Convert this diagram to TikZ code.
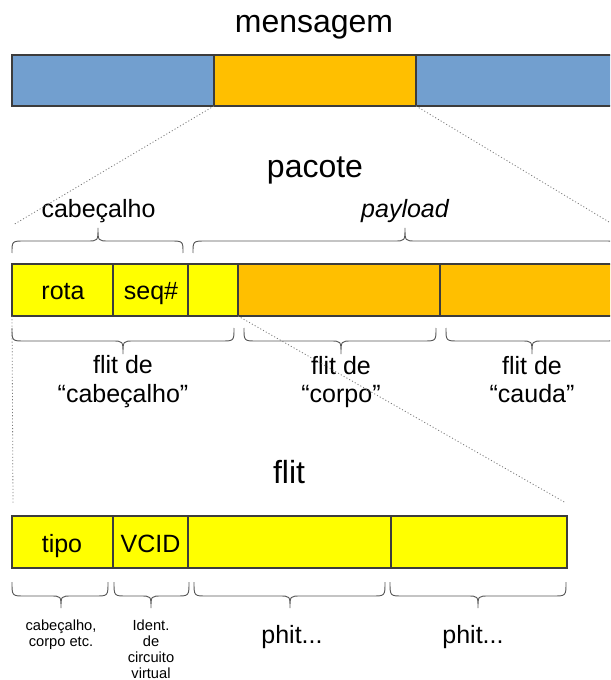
\documentclass[tikz,border=0pt]{standalone}
\usepackage{fontspec}
\setmainfont{Liberation Sans}
\usetikzlibrary{fit}

\definecolor{msgblue}{HTML}{729FCF}
\definecolor{amber}{HTML}{FFBF00}
\definecolor{lemon}{HTML}{FFFF00}
\definecolor{edge}{HTML}{3C3C3C}
\definecolor{bracegray}{HTML}{5A5A5A}
\definecolor{guide}{HTML}{7A7A7A}

% one field of a bar: name, x1, y1, x2, y2, fill colour
\newcommand\segbox[6]{%
  \node[seg, fill=#6, fit={(#2,#3) (#4,#5)}] (#1) {};}

% curly brace: x1, x2, x of tip, y of ends, y of flat part, y of tip
\newcommand\curlybrace[6]{%
  \draw[bracestyle] (#1,#4) .. controls (#1,#5) .. ({#1+13},#5)
    -- ({#3-11},#5) .. controls (#3,#5) .. (#3,#6)
    .. controls (#3,#5) .. ({#3+11},#5)
    -- ({#2-13},#5) .. controls (#2,#5) .. (#2,#4);}

\begin{document}
\begin{tikzpicture}[x=0.75pt,y=-0.75pt,
  seg/.style={draw=edge, line width=0.9pt, inner sep=0pt, outer sep=0pt},
  big/.style={font=\fontsize{24}{28}\selectfont, anchor=base, inner sep=0pt},
  mid/.style={font=\fontsize{18.75}{22}\selectfont, anchor=base, inner sep=0pt},
  small/.style={font=\fontsize{11}{13}\selectfont, anchor=base, inner sep=0pt},
  bracestyle/.style={draw=bracegray, line width=0.7pt},
  guideline/.style={draw=guide, line width=0.6pt, dash pattern=on 0.8pt off 1.6pt}]

\clip (0,0) rectangle (610,680);
\fill[white] (0,0) rectangle (610,680);

% ---- message ----
\node[big] (tmsg) at (314,33) {mensagem};
\segbox{m1}{12}{55}{214}{106}{msgblue}
\segbox{m2}{214}{55}{416}{106}{amber}
\segbox{m3}{416}{55}{625}{106}{msgblue}

% ---- packet ----
\node[big] (tpkt) at (315,178) {pacote};
\node[mid] (thead) at (98.5,218) {cabeçalho};
\node[mid] (tpay) at (405,218) {\itshape payload};
\curlybrace{12}{183}{98}{253}{241}{228}
\curlybrace{193}{617}{405}{253}{241}{228}

\segbox{p1}{12}{264}{113}{316}{lemon}
\segbox{p2}{113}{264}{188}{316}{lemon}
\segbox{p3}{188}{264}{238}{316}{lemon}
\segbox{p4}{238}{264}{440}{316}{amber}
\segbox{p5}{440}{264}{625}{316}{amber}
\node[mid] (trota) at (63,300) {rota};
\node[mid] (tseq) at (151,300) {seq\#};

\curlybrace{12}{234}{123}{328}{341}{354}
\curlybrace{244}{436}{341}{328}{341}{354}
\curlybrace{446}{618}{532}{328}{341}{354}
\node[mid] (fh1) at (123,373) {flit de};
\node[mid] (fh2) at (123,402) {“cabeçalho”};
\node[mid] (fb1) at (341,374) {flit de};
\node[mid] (fb2) at (341,402) {“corpo”};
\node[mid] (ft1) at (532,374) {flit de};
\node[mid] (ft2) at (532,402) {“cauda”};

% ---- flit ----
\node[big] (tflit) at (289,483) {flit};
\segbox{f1}{12}{516}{113}{568}{lemon}
\segbox{f2}{113}{516}{188}{568}{lemon}
\segbox{f3}{188}{516}{391}{568}{lemon}
\segbox{f4}{391}{516}{567}{568}{lemon}
\node[mid] (ttipo) at (62,552) {tipo};
\node[mid] (tvcid) at (150.5,552) {VCID};

\curlybrace{12}{108}{61}{582}{596}{608}
\curlybrace{114}{189}{151}{582}{596}{608}
\curlybrace{194}{385}{290}{582}{596}{608}
\curlybrace{390}{566}{478}{582}{596}{608}
\node[small] (c1) at (61,630) {cabeçalho,};
\node[small] (c2) at (61,646) {corpo etc.};
\node[small] (v1) at (151,630) {Ident.};
\node[small] (v2) at (151,646) {de};
\node[small] (v3) at (151,662) {circuito};
\node[small] (v4) at (151,678) {virtual};
\node[mid] (ph1) at (292,643) {phit...};
\node[mid] (ph2) at (473,643) {phit...};

% ---- zoom guides ----
\coordinate (pkL) at (13,225);
\coordinate (pkR) at (614,225);
\coordinate (flL) at (13,503);
\coordinate (flR) at (566,503);
\draw[guideline] (m2.south west) -- (pkL);
\draw[guideline] (m2.south east) -- (pkR);
\draw[guideline] (p1.south west) -- (flL);
\draw[guideline] (p3.south east) -- (flR);
\end{tikzpicture}
\end{document}
